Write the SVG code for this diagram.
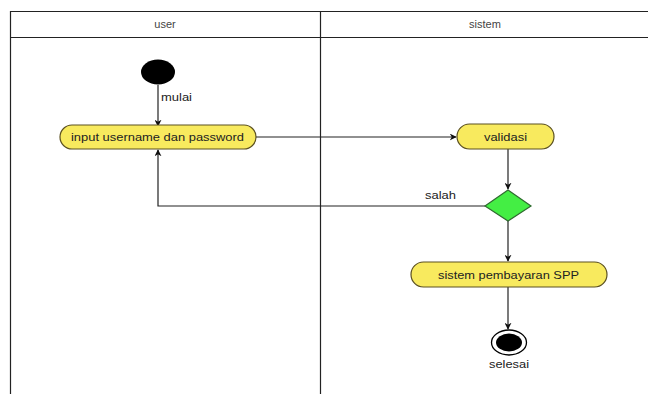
<svg xmlns="http://www.w3.org/2000/svg" width="648" height="394" viewBox="0 0 648 394">
<style>
text{font-family:"Liberation Sans",Arial,sans-serif;font-size:11px;fill:#222;}
.hdr{fill:#444;}
.lane{fill:none;stroke:#222;stroke-width:1.2;}
.act{fill:#f8ea5e;stroke:#5b5020;stroke-width:1.2;}
.conn{fill:none;stroke:#222;stroke-width:1.2;}
</style>
<defs>
<marker id="arr" viewBox="0 0 10 10" refX="9" refY="5" markerWidth="7" markerHeight="7" orient="auto" markerUnits="userSpaceOnUse">
<path d="M0,0 L10,5 L0,10 L3,5 Z" fill="#111"/>
</marker>
</defs>
<rect width="648" height="394" fill="#fff"/>
<g id="swimlanes">
<path class="lane" d="M10.5,394 V11.5 H648 M10.5,37.5 H648 M320.5,11.5 V394"/>
<text class="hdr" x="165" y="28" text-anchor="middle">user</text>
<text class="hdr" x="485" y="28" text-anchor="middle">sistem</text>
</g>
<g id="connectors">
<path class="conn" d="M158,85 V126" marker-end="url(#arr)"/>
<text x="161" y="101" textLength="31" lengthAdjust="spacingAndGlyphs">mulai</text>
<path class="conn" d="M256,137 H456" marker-end="url(#arr)"/>
<path class="conn" d="M508,149 V189" marker-end="url(#arr)"/>
<path class="conn" d="M485,206 H158 V150" marker-end="url(#arr)"/>
<text x="425" y="199" textLength="31" lengthAdjust="spacingAndGlyphs">salah</text>
<path class="conn" d="M508,221 V261" marker-end="url(#arr)"/>
<path class="conn" d="M508,287 V329" marker-end="url(#arr)"/>
</g>
<g id="start">
<ellipse cx="158" cy="72" rx="17" ry="12.5" fill="#000"/>
</g>
<g id="input">
<rect class="act" x="60" y="125" width="196" height="24" rx="12" ry="12"/>
<text x="71" y="141" textLength="173" lengthAdjust="spacingAndGlyphs">input username dan password</text>
</g>
<g id="validasi">
<rect class="act" x="457" y="124" width="97" height="25" rx="12.5" ry="12.5"/>
<text x="484" y="140.5" textLength="43" lengthAdjust="spacingAndGlyphs">validasi</text>
</g>
<g id="decision">
<polygon points="508,190 531,206 508,221 485,206" fill="#44ee44" stroke="#2f6b2f" stroke-width="1.2"/>
</g>
<g id="spp">
<rect class="act" x="411" y="262" width="196" height="25" rx="12.5" ry="12.5"/>
<text x="438" y="278.5" textLength="141" lengthAdjust="spacingAndGlyphs">sistem pembayaran SPP</text>
</g>
<g id="end">
<ellipse cx="509" cy="342.5" rx="17.5" ry="12.5" fill="#fff" stroke="#000" stroke-width="1.3"/>
<ellipse cx="509" cy="342.5" rx="13" ry="9" fill="#000"/>
<text x="489" y="368" textLength="40" lengthAdjust="spacingAndGlyphs">selesai</text>
</g>
</svg>
